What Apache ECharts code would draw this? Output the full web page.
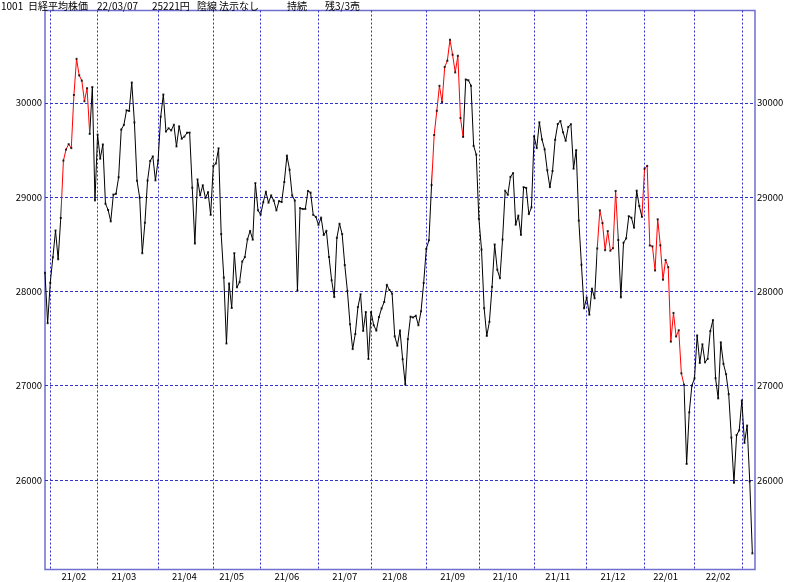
<!DOCTYPE html>
<html><head><meta charset="utf-8">
<script src="https://cdn.jsdelivr.net/npm/echarts@6/dist/echarts.min.js"></script>
<style>html,body{margin:0;padding:0;background:#fff}#c{width:800px;height:582px}</style>
</head><body><div id="c"></div>
<script>
const dates = [
"2021/01/28","2021/01/29",
"2021/02/01","2021/02/02","2021/02/03","2021/02/04","2021/02/05","2021/02/08","2021/02/09","2021/02/10","2021/02/12","2021/02/15","2021/02/16","2021/02/17","2021/02/18","2021/02/19","2021/02/22","2021/02/24","2021/02/25","2021/02/26",
"2021/03/01","2021/03/02","2021/03/03","2021/03/04","2021/03/05","2021/03/08","2021/03/09","2021/03/10","2021/03/11","2021/03/12","2021/03/15","2021/03/16","2021/03/17","2021/03/18","2021/03/19","2021/03/22","2021/03/23","2021/03/24","2021/03/25","2021/03/26","2021/03/29","2021/03/30","2021/03/31",
"2021/04/01","2021/04/02","2021/04/05","2021/04/06","2021/04/07","2021/04/08","2021/04/09","2021/04/12","2021/04/13","2021/04/14","2021/04/15","2021/04/16","2021/04/19","2021/04/20","2021/04/21","2021/04/22","2021/04/23","2021/04/26","2021/04/27","2021/04/28","2021/04/30",
"2021/05/06","2021/05/07","2021/05/10","2021/05/11","2021/05/12","2021/05/13","2021/05/14","2021/05/17","2021/05/18","2021/05/19","2021/05/20","2021/05/21","2021/05/24","2021/05/25","2021/05/26","2021/05/27","2021/05/28","2021/05/31",
"2021/06/01","2021/06/02","2021/06/03","2021/06/04","2021/06/07","2021/06/08","2021/06/09","2021/06/10","2021/06/11","2021/06/14","2021/06/15","2021/06/16","2021/06/17","2021/06/18","2021/06/21","2021/06/22","2021/06/23","2021/06/24","2021/06/25","2021/06/28","2021/06/29","2021/06/30",
"2021/07/01","2021/07/02","2021/07/05","2021/07/06","2021/07/07","2021/07/08","2021/07/09","2021/07/12","2021/07/13","2021/07/14","2021/07/15","2021/07/16","2021/07/19","2021/07/20","2021/07/21","2021/07/26","2021/07/27","2021/07/28","2021/07/29","2021/07/30",
"2021/08/02","2021/08/03","2021/08/04","2021/08/05","2021/08/06","2021/08/10","2021/08/11","2021/08/12","2021/08/13","2021/08/16","2021/08/17","2021/08/18","2021/08/19","2021/08/20","2021/08/23","2021/08/24","2021/08/25","2021/08/26","2021/08/27","2021/08/30","2021/08/31",
"2021/09/01","2021/09/02","2021/09/03","2021/09/06","2021/09/07","2021/09/08","2021/09/09","2021/09/10","2021/09/13","2021/09/14","2021/09/15","2021/09/16","2021/09/17","2021/09/21","2021/09/22","2021/09/24","2021/09/27","2021/09/28","2021/09/29","2021/09/30",
"2021/10/01","2021/10/04","2021/10/05","2021/10/06","2021/10/07","2021/10/08","2021/10/11","2021/10/12","2021/10/13","2021/10/14","2021/10/15","2021/10/18","2021/10/19","2021/10/20","2021/10/21","2021/10/22","2021/10/25","2021/10/26","2021/10/27","2021/10/28","2021/10/29",
"2021/11/01","2021/11/02","2021/11/04","2021/11/05","2021/11/08","2021/11/09","2021/11/10","2021/11/11","2021/11/12","2021/11/15","2021/11/16","2021/11/17","2021/11/18","2021/11/19","2021/11/22","2021/11/24","2021/11/25","2021/11/26","2021/11/29","2021/11/30",
"2021/12/01","2021/12/02","2021/12/03","2021/12/06","2021/12/07","2021/12/08","2021/12/09","2021/12/10","2021/12/13","2021/12/14","2021/12/15","2021/12/16","2021/12/17","2021/12/20","2021/12/21","2021/12/22","2021/12/23","2021/12/24","2021/12/27","2021/12/28","2021/12/29","2021/12/30",
"2022/01/04","2022/01/05","2022/01/06","2022/01/07","2022/01/11","2022/01/12","2022/01/13","2022/01/14","2022/01/17","2022/01/18","2022/01/19","2022/01/20","2022/01/21","2022/01/24","2022/01/25","2022/01/26","2022/01/27","2022/01/28","2022/01/31",
"2022/02/01","2022/02/02","2022/02/03","2022/02/04","2022/02/07","2022/02/08","2022/02/09","2022/02/10","2022/02/14","2022/02/15","2022/02/16","2022/02/17","2022/02/18","2022/02/21","2022/02/22","2022/02/24","2022/02/25","2022/02/28",
"2022/03/01","2022/03/02","2022/03/03","2022/03/04","2022/03/07"
];

const closes = [
28197,27663,
28091,28362,28646,28341,28779,29388,29505,29562,29520,30084,30467,30292,30236,30017,30156,29671,30168,28966,
29663,29408,29559,28930,28864,28743,29027,29036,29211,29717,29766,29921,29914,30216,29792,29174,28995,28405,28729,29176,29384,29432,29178,
29388,29854,30089,29696,29730,29708,29768,29538,29751,29620,29642,29683,29685,29100,28508,29188,29020,29126,28991,29053,28812,
29331,29357,29518,28608,28147,27448,28084,27824,28406,28044,28098,28317,28364,28553,28642,28549,29149,28860,
28814,28946,29058,28941,29019,28963,28860,28958,28948,29161,29441,29291,29018,28964,28010,28884,28874,28875,29066,29048,28812,28791,
28707,28783,28598,28643,28366,28118,27940,28569,28718,28608,28279,28003,27652,27388,27548,27833,27970,27581,27782,27283,
27781,27641,27584,27728,27820,27888,28070,28015,27977,27523,27424,27585,27281,27013,27494,27732,27724,27742,27641,27789,28089,
28451,28543,29128,29659,29916,30181,30008,30381,30447,30670,30511,30323,30500,29839,29639,30248,30240,30183,29544,29452,
28771,28444,27822,27528,27678,28048,28498,28230,28140,28550,29068,29025,29215,29255,28708,28804,28600,29106,29098,28820,28892,
29647,29520,29794,29611,29507,29285,29106,29277,29609,29776,29808,29688,29598,29745,29774,29302,29499,28751,28283,27821,
27935,27753,28029,27927,28455,28860,28725,28437,28640,28432,28459,29066,28545,27937,28517,28562,28798,28782,28676,29069,28906,28791,
29301,29332,28487,28478,28222,28765,28489,28124,28333,28257,27467,27772,27522,27588,27131,27011,26170,26717,27001,
27078,27533,27241,27439,27248,27284,27579,27696,27079,26865,27460,27232,27122,26910,26449,25970,26476,26526,
26844,26393,26577,25985,25221
];

// spans of the line drawn in red (first and last date of each span)
const redSpans = [
["2021/02/05","2021/02/24"],
["2021/09/03","2021/09/22"],
["2021/12/07","2021/12/17"],
["2021/12/30","2022/01/26"]
];

const yTicks = [26000,27000,28000,29000,30000];

const titleParts = [
["1001",1],["日経平均株価",28],["22/03/07",97],["25221円",152],["陰線",197],["法示なし",219],["持続",287],["残3/3売",325]
];

const FONT = '"Noto Sans CJK JP", "Liberation Sans", sans-serif';
const GRIDC = '#3333cc';

const chart = echarts.init(document.getElementById('c'), null, {renderer:'canvas'});

function isMonthStart(i){
  if (i <= 0 || i >= dates.length) return false;
  return dates[i].slice(0,7) !== dates[i-1].slice(0,7);
}
function isMidMonth(i){
  if (i <= 0 || i >= dates.length) return false;
  const d = +dates[i].slice(8,10), pd = +dates[i-1].slice(8,10);
  const sameMonth = dates[i].slice(0,7) === dates[i-1].slice(0,7);
  return d >= 15 && (!sameMonth || pd < 15);
}

const pieces = redSpans.map(s => ({gte: dates.indexOf(s[0]), lte: dates.indexOf(s[1]), color:'#ff0000'}));

function yAxisDef(pos, grid){
  return {
    type:'value', position:pos, min:25050, max:30980,
    axisLine:{show:false},
    axisTick:{show:false, customValues:yTicks},
    axisLabel:{customValues:yTicks, formatter:(v)=>String(v), margin: pos==='left'?3:2, fontSize:9.5, color:'#000', fontFamily:FONT},
    splitLine:{show:grid, lineStyle:{color:GRIDC, width:1, type:[3,2]}}
  };
}

chart.setOption({
  animation:false,
  backgroundColor:'#fff',
  grid:{left:45, right:45, top:10.5, bottom:12.5, show:true, borderColor:'#6f6fcf', borderWidth:1.5, backgroundColor:'transparent'},
  graphic: titleParts.map(p => ({
    type:'text', left:p[1], top:1, z:100,
    style:{text:p[0], fontSize:10, fontFamily:FONT, fill:'#000'}
  })),
  xAxis:{
    type:'category', data:dates, boundaryGap:false, max: dates.length,
    axisLine:{show:false}, axisTick:{show:false},
    axisLabel:{interval:(i)=>isMidMonth(i), formatter:(v)=> v ? v.slice(2,7) : '', margin:2, fontSize:9.5, color:'#000', fontFamily:FONT, hideOverlap:false},
    splitLine:{show:true, interval:(i)=>isMonthStart(i), lineStyle:{color:GRIDC, width:1, type:[2,2]}}
  },
  yAxis:[yAxisDef('left', true), yAxisDef('right', false)],
  visualMap:{type:'piecewise', show:false, dimension:0, seriesIndex:0, pieces:pieces, outOfRange:{color:'#000'}},
  series:[
    {type:'line', data:closes, symbol:'none', lineStyle:{width:1}, z:2},
    {type:'scatter', data:closes, symbol:'rect', symbolSize:2, itemStyle:{color:'#000'}, z:3, silent:true}
  ]
});
</script></body></html>
